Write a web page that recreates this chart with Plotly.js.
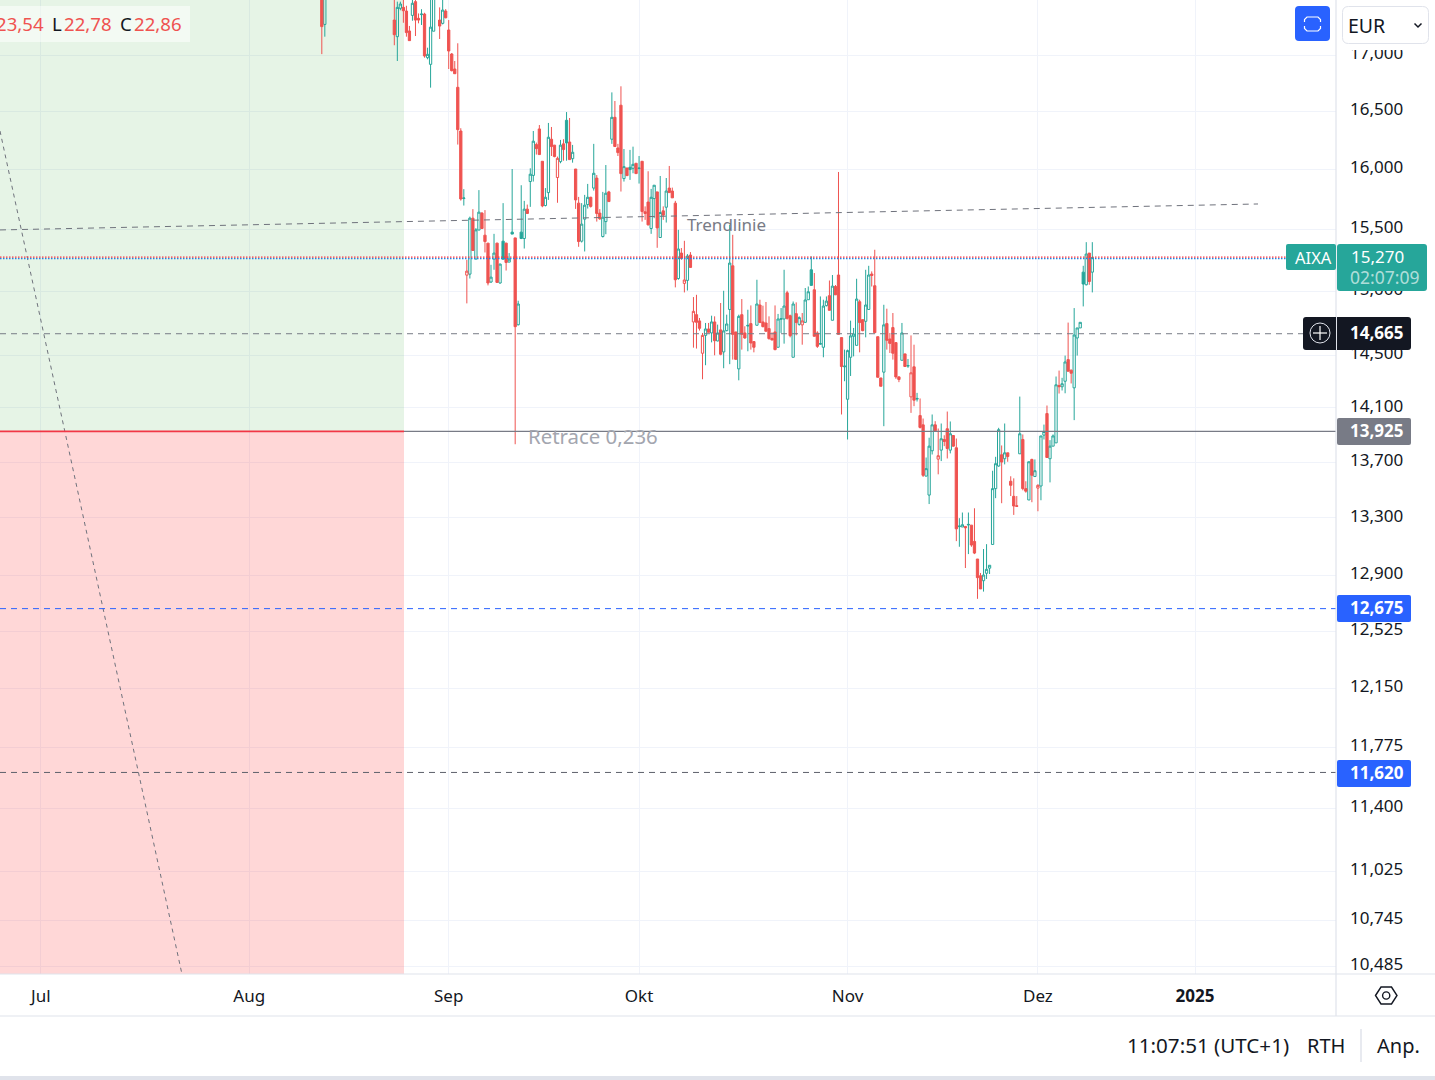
<!DOCTYPE html>
<html><head><meta charset="utf-8">
<script src="https://cdn.plot.ly/plotly-3.0.1.min.js"></script>
<style>html,body{margin:0;padding:0;background:#fff;overflow:hidden}#c{width:1435px;height:1080px}</style>
</head><body><div id="c"></div>
<script>
const bar=[-24,-23,0,1,2,3,4,5,6,7,8,9,10,11,12,13,
15,16,17,18,19,20,21,22,23,
24,25,26,27,28,29,30,31,32,33,
34,35,36,37,38,39,40,41,42,43,
44,45,46,47,48,49,50,51,52,53,
54,55,56,57,58,59,60,61,62,63,
64,65,66,67,68,69,70,71,72,73,
74,75,76,77,78,79,80,81,82,83,
84,85,86,87,88,89,90,91,92,93,
94,95,96,97,98,99,100,101,102,103,
104,105,106,107,108,109,110,111,112,113,
114,115,116,117,118,119,120,121,122,123,
124,125,126,127,128,129,130,131,132,133,
134,135,136,137,138,139,140,141,142,143,
144,145,146,147,148,149,150,151,152,153,
154,155,156,157,158,159,160,161,162,163,
164,165,166,167,168,169,170,171,172,173,
174,175,176,177,178,179,180,181,182,183,
184,185,186,187,188,189,190,191,192,193,
194,195,196,197,198,199,200,201,202,203,
204,205,206,207,208,209,210,211,212,213,
214,215,216,217,218,219,220,221,222,223,
224,225,226,227,228,229,230,231];
const tone=("r g r g g r r r g r r g r g g g "+
"r g r r r r r r g "+
"r g r g g r r r g g "+
"r g g r g g r g g g "+
"r g g r r r g g r r "+
"r g r g r g r r g g "+
"g r g r r g g r g r "+
"r r g r g g r g r r "+
"r g g r g r g r r r "+
"g r r g r r r r r g "+
"r g r g r g g g r r "+
"g r r g r r g r r r "+
"r r r g g g r r g r "+
"g r g g g r r g g g "+
"r g r r r g g g g g "+
"r r g g r r r r g r "+
"r r r r g r g r r g "+
"r r g g g r r g r r "+
"g r r g g r g r r r "+
"r g g g g g g r g r "+
"r r r g r r g r g r "+
"g g r g g g r g g r "+
"r g g g g g r g").split(" ");
const open=[17.7,17.28,17.32,17.168,17.428,17.437,17.403,17.22,17.363,17.49,17.336,17.37,17.375,16.978,16.918,17.218,
17.32,17.29,17.403,17.229,17.011,16.876,16.713,16.33,15.755,
15.128,15.136,15.592,15.257,15.494,15.634,15.452,15.387,15.073,15.257,
15.387,15.065,15.403,15.387,15.233,15.477,15.43,14.735,15.477,15.425,
15.667,15.898,15.95,16.213,16.348,16.07,15.697,15.805,16.259,16.208,
15.932,16.067,16.219,16.423,16.235,16.092,16.004,15.717,15.403,15.584,
15.705,15.766,15.843,15.927,15.634,15.441,15.564,15.811,16.259,16.449,
16.184,16.555,15.923,16.013,16.019,16.01,16.053,16.008,16.07,15.645,
15.726,15.507,15.755,15.811,15.433,15.653,15.683,15.843,15.818,15.717,
15.101,15.306,15.062,15.086,15.29,14.757,14.814,14.765,14.514,14.652,
14.702,14.671,14.757,14.609,14.695,14.524,14.689,14.855,15.203,14.679,
14.394,14.814,14.671,14.725,14.744,14.604,14.731,14.89,14.757,14.749,
14.705,14.629,14.679,14.56,14.778,14.78,14.987,14.806,14.483,14.822,
14.738,14.734,14.754,14.932,15.171,15.011,14.671,14.584,14.56,14.885,
14.964,14.77,15.037,15.129,14.635,14.41,14.164,14.483,14.645,14.575,
14.916,14.775,14.762,14.855,15.137,15.043,14.642,14.325,14.369,14.744,
14.624,14.713,14.596,14.333,14.46,14.509,14.415,14.182,14.41,14.165,
14.042,13.973,13.598,13.462,13.782,13.973,13.721,13.787,13.865,13.944,
13.787,13.894,13.804,13.238,13.236,13.24,13.25,13.249,13.135,13.013,
12.898,12.864,12.915,12.95,13.114,13.508,13.671,13.753,13.724,13.767,
13.561,13.453,13.386,13.76,13.865,13.508,13.427,13.719,13.595,13.512,
13.527,13.897,14.057,13.724,13.816,13.84,14.268,14.258,14.30,14.465,
14.384,14.25,14.632,14.71,15.152,15.051,15.306,15.152];
const high=[17.8,17.7,17.6,17.49,17.49,17.55,17.452,17.266,17.55,17.55,17.381,17.42,17.387,17.068,17.6,17.7,
17.437,17.52,17.421,17.32,17.02,16.948,17.108,16.354,15.834,
15.252,15.605,15.667,15.51,15.826,15.642,15.659,15.387,15.211,15.463,
15.39,15.22,15.717,15.39,15.306,16.004,15.43,14.924,15.867,15.736,
15.705,16.01,16.33,16.23,16.382,16.07,15.843,16.4,16.365,16.21,
16.11,16.253,16.259,16.495,16.443,16.21,16.004,15.769,15.717,15.786,
15.878,15.77,16.219,15.953,15.667,15.811,16.038,15.82,16.668,16.592,
16.219,16.722,16.175,16.013,16.167,16.195,16.053,16.115,16.07,15.69,
15.985,15.836,15.867,15.811,15.945,15.69,15.928,16.03,15.847,15.736,
15.496,15.347,15.406,15.298,15.314,14.953,14.971,14.788,14.671,14.749,
14.749,14.806,14.801,14.736,14.906,15.003,14.814,15.537,15.455,14.679,
14.814,14.937,14.723,14.853,14.887,14.604,15.091,14.932,14.885,14.914,
14.801,14.676,14.887,14.82,14.866,15.171,15.003,14.814,14.918,14.911,
14.801,14.827,15.025,15.037,15.279,15.145,14.684,14.958,14.932,14.958,
15.085,15.129,15.049,15.979,14.635,14.542,14.542,14.767,14.71,15.099,
14.932,14.775,15.171,15.203,15.158,15.333,14.642,14.325,14.892,14.861,
14.671,14.827,14.596,14.338,14.749,14.509,14.47,14.652,14.58,14.212,
14.17,14.02,13.733,13.878,14.05,14.0,13.946,13.983,13.896,14.072,
13.998,13.896,13.872,13.298,13.338,13.24,13.338,13.249,13.368,13.013,
12.917,13.082,13.116,12.97,13.637,13.738,13.951,13.821,13.983,13.767,
13.597,13.582,13.455,14.184,13.902,13.561,13.702,13.724,13.719,13.539,
13.891,13.975,14.117,13.86,13.902,14.336,14.381,14.326,14.496,14.752,
14.389,14.866,14.71,14.754,15.203,15.395,15.306,15.395];
const low=[17.01,17.168,17.09,16.948,17.41,17.295,17.168,17.132,17.314,17.174,17.29,17.275,16.978,16.963,16.71,17.218,
17.147,17.28,17.336,16.876,16.855,16.834,16.213,15.738,15.697,
14.903,15.101,15.327,15.257,15.494,15.502,15.311,15.046,15.065,15.171,
15.065,15.06,15.252,15.165,15.233,15.461,13.83,14.73,15.42,15.343,
15.631,15.686,15.898,16.127,16.127,15.683,15.69,15.744,16.115,16.104,
15.72,16.053,16.075,16.075,16.084,16.058,15.669,15.357,15.392,15.319,
15.672,15.68,15.822,15.564,15.578,15.433,15.46,15.73,16.219,16.196,
16.115,15.814,15.898,15.948,15.912,15.968,15.965,15.881,15.564,15.578,
15.532,15.463,15.592,15.349,15.433,15.578,15.556,15.805,15.761,15.03,
15.091,15.252,14.99,15.005,15.19,14.557,14.55,14.69,14.315,14.422,
14.676,14.598,14.498,14.606,14.498,14.399,14.684,14.43,14.465,14.465,
14.307,14.542,14.626,14.529,14.542,14.521,14.731,14.749,14.715,14.684,
14.619,14.616,14.537,14.56,14.671,14.588,14.775,14.637,14.483,14.653,
14.728,14.58,14.749,14.932,15.046,14.645,14.555,14.58,14.483,14.879,
14.848,14.77,14.969,14.66,14.05,14.30,13.865,14.34,14.49,14.575,
14.521,14.684,14.637,14.855,15.037,14.673,14.33,14.262,13.963,14.542,
14.516,14.465,14.318,14.293,14.46,14.41,14.402,14.062,14.112,14.147,
13.946,13.592,13.598,13.398,13.755,13.929,13.611,13.707,13.816,13.726,
13.763,13.812,13.137,13.098,13.236,12.951,13.047,13.098,13.047,12.741,
12.808,12.79,12.876,12.91,13.114,13.44,13.666,13.404,13.683,13.702,
13.455,13.321,13.38,13.76,13.496,13.479,13.427,13.411,13.595,13.347,
13.425,13.865,13.733,13.553,13.816,13.84,14.207,14.23,14.209,14.376,
14.283,14.008,14.496,14.71,14.879,15.046,15.051,14.99];
const close=[17.26,17.6,17.186,17.437,17.468,17.406,17.205,17.132,17.475,17.32,17.32,17.375,16.993,17.008,17.255,17.62,
17.265,17.412,17.341,17.038,16.861,16.834,16.342,15.752,15.76,
15.16,15.592,15.327,15.496,15.642,15.507,15.40,15.065,15.112,15.306,
15.07,15.217,15.257,15.23,15.257,15.461,14.72,14.898,15.425,15.667,
15.631,15.96,16.242,16.178,16.127,15.694,15.766,16.276,16.196,16.11,
16.095,16.208,16.17,16.227,16.084,16.147,15.744,15.40,15.543,15.70,
15.766,15.69,15.968,15.631,15.587,15.60,15.80,15.73,16.449,16.196,
16.144,15.965,16.024,15.948,15.999,16.044,15.965,16.012,15.647,15.631,
15.537,15.766,15.867,15.512,15.639,15.617,15.818,15.805,15.761,15.091,
15.339,15.262,15.089,15.282,15.19,14.84,14.754,14.707,14.652,14.702,
14.676,14.757,14.611,14.671,14.506,14.687,14.741,15.225,14.66,14.467,
14.801,14.66,14.632,14.73,14.593,14.56,14.898,14.752,14.72,14.684,
14.627,14.616,14.542,14.78,14.782,14.882,14.785,14.65,14.898,14.752,
14.791,14.765,14.93,14.995,15.046,14.645,14.567,14.588,14.882,14.921,
14.848,15.04,14.971,14.66,14.412,14.415,14.534,14.648,14.663,14.937,
14.752,14.689,14.89,15.129,15.125,14.673,14.33,14.262,14.734,14.614,
14.59,14.514,14.333,14.313,14.671,14.412,14.42,14.364,14.157,14.17,
13.954,13.604,13.652,13.816,13.973,13.929,13.746,13.87,13.85,13.799,
13.907,13.816,13.223,13.242,13.252,13.23,13.254,13.11,13.054,12.885,
12.808,12.903,12.942,12.97,13.508,13.688,13.937,13.70,13.767,13.74,
13.532,13.384,13.382,13.907,13.508,13.49,13.702,13.604,13.637,13.532,
13.891,13.924,13.733,13.816,13.891,14.273,14.258,14.281,14.447,14.376,
14.361,14.655,14.71,14.754,15.057,15.298,15.077,15.27];

const xTickBars=[-117,-48,18,81,150,213,265];
const xTickText=["Jul","Aug","Sep","Okt","Nov","Dez","<b>2025</b>"];
const yTickVals=[17,16.5,16,15.5,15,14.5,14.1,13.7,13.3,12.9,12.525,12.15,11.775,11.4,11.025,10.745,10.485];
const yTickText=["17,000","16,500","16,000","15,500","15,000","14,500","14,100","13,700","13,300","12,900","12,525","12,150","11,775","11,400","11,025","10,745","10,485"];
const lastPrice=15.27, pivot=14.665, retrace=13.925, blueLevel=12.675, lowerLevel=11.62;

const W=1435,H=1080,PW=1336,PH=974;
const INK="#131722",TEAL="#26a69a",RED="#ef5350",GRAY="#787b86",BLUE="#2962ff",GRID="#f0f3fa",EDGE="#e0e3eb";
const FONT='"Noto Sans", sans-serif';
const xr=[-130.5,311.65];
const yr=[1.01877,1.24317];
const barOfPx=p=>xr[0]+(xr[1]-xr[0])*p/PW;
const X=p=>p/PW, Y=p=>1-p/PH;

function candles(t,color){
  const idx=bar.map((_,i)=>i).filter(i=>tone[i]===t);
  return {type:"candlestick",x:idx.map(i=>bar[i]),open:idx.map(i=>open[i]),high:idx.map(i=>high[i]),low:idx.map(i=>low[i]),close:idx.map(i=>close[i]),
    increasing:{line:{color:color,width:1},fillcolor:"rgba(0,0,0,0)"},
    decreasing:{line:{color:color,width:1},fillcolor:color},
    whiskerwidth:0,hoverinfo:"skip",showlegend:false};
}
const rectPx=(x0,y0,x1,y1,fill,line)=>({type:"rect",xref:"paper",yref:"paper",x0:X(x0),x1:X(x1),y0:Y(y0),y1:Y(y1),fillcolor:fill,line:line||{width:0},layer:"above"});
const linePx=(x0,y0,x1,y1,color,w)=>({type:"line",xref:"paper",yref:"paper",x0:X(x0),x1:X(x1),y0:Y(y0),y1:Y(y1),line:{color:color,width:w||1},layer:"above"});
function rr(x0,y0,x1,y1,r){const P=(a,b)=>X(a)+","+Y(b);
  return "M"+P(x0+r,y0)+" L"+P(x1-r,y0)+" Q"+P(x1,y0)+" "+P(x1,y0+r)+" L"+P(x1,y1-r)+" Q"+P(x1,y1)+" "+P(x1-r,y1)+" L"+P(x0+r,y1)+" Q"+P(x0,y1)+" "+P(x0,y1-r)+" L"+P(x0,y0+r)+" Q"+P(x0,y0)+" "+P(x0+r,y0)+" Z";}
const rrect=(x0,y0,x1,y1,r,fill,line)=>({type:"path",xref:"paper",yref:"paper",path:rr(x0,y0,x1,y1,r),fillcolor:fill,line:line||{width:0},layer:"above"});
const poly=(pts,color,w,close_)=>({type:"path",xref:"paper",yref:"paper",path:"M"+pts.map(p=>X(p[0])+","+Y(p[1])).join(" L")+(close_?" Z":""),fillcolor:"rgba(0,0,0,0)",line:{color:color,width:w},layer:"above"});
const circle=(cx,cy,r,color,w)=>({type:"circle",xref:"paper",yref:"paper",x0:X(cx-r),x1:X(cx+r),y0:Y(cy+r),y1:Y(cy-r),line:{color:color,width:w},fillcolor:"rgba(0,0,0,0)",layer:"above"});
const hLevel=(y,p0,p1,color,dash,w)=>({type:"line",xref:"x",yref:"y",x0:barOfPx(p0),x1:barOfPx(p1),y0:y,y1:y,line:{color:color,width:w||1,dash:dash||"solid"},layer:"above"});
const txt=(text,x,y,size,color,anchor,extra)=>Object.assign({text:text,xref:"paper",yref:"paper",x:X(x),y:Y(y),xanchor:anchor||"left",yanchor:"middle",showarrow:false,font:{family:FONT,size:size,color:color||INK},borderpad:0},extra||{});

const shapes=[
 {type:"rect",xref:"x",yref:"y",x0:barOfPx(-2),x1:barOfPx(404),y0:retrace,y1:18,fillcolor:"rgba(76,175,80,0.14)",line:{width:0},layer:"between"},
 {type:"rect",xref:"x",yref:"y",x0:barOfPx(-2),x1:barOfPx(404),y0:10,y1:retrace,fillcolor:"rgba(255,82,82,0.23)",line:{width:0},layer:"between"},
 {type:"line",xref:"x",yref:"y",x0:barOfPx(0),x1:barOfPx(1258),y0:15.495,y1:15.71,line:{color:"#6f727c",width:1,dash:"6px,5px"},layer:"above"},
 {type:"line",xref:"x",yref:"y",x0:barOfPx(0),x1:barOfPx(182),y0:16.33,y1:10.44,line:{color:"#6f727c",width:1,dash:"4px,4px"},layer:"above"},
 hLevel(pivot,0,1303,GRAY,"6px,5px"),
 hLevel(blueLevel,0,1336,BLUE,"6px,5px"),
 hLevel(lowerLevel,0,1336,"#5d606b","6px,5px"),
 hLevel(retrace,404,1336,GRAY,"solid",1.2),
 hLevel(retrace,0,404,"#f23645","solid",1.6),
 hLevel(lastPrice-0.009,0,1286,"#1e88e5","1.5px,1.5px",1.4),
 hLevel(lastPrice+0.003,0,1286,"#f23645","1.5px,1.5px",1.4),
 rectPx(1337,0,W,50,"#fff"),
 linePx(1336,0,1336,1016,EDGE,1.2),
 linePx(0,974,W,974,EDGE,1.2),
 linePx(0,1016,W,1016,EDGE,1.2),
 rectPx(0,1076,W,1080,"#e0e3eb"),
 linePx(1361,1029,1361,1062,EDGE,1.5),
 rectPx(0,6,190,42,"rgba(255,255,255,0.5)"),
 rrect(1295,6,1330,41,4,BLUE),
 poly([[1304.5,22],[1304.5,19.5],[1307,17],[1318,17],[1320.5,19.5],[1320.5,22]],"#fff",1.2),
 poly([[1304.5,26],[1304.5,28.5],[1307,31],[1318,31],[1320.5,28.5],[1320.5,26]],"#fff",1.2),
 rrect(1342.5,6.5,1428.5,43.5,6,"#fff",{color:EDGE,width:1}),
 poly([[1414.5,23.5],[1418,27],[1421.5,23.5]],INK,1.5),
 rrect(1286,244,1336,270,2,TEAL),
 rrect(1337,244,1427,291,3,TEAL),
 rrect(1303,317,1411,350,3,INK),
 linePx(1336.5,317,1336.5,350,"#e0e3eb",1),
 circle(1320,333,10,"#e0e3eb",1),
 linePx(1313,333,1327,333,"#fff",1.2),
 linePx(1320,326,1320,340,"#fff",1.2),
 rrect(1337,418,1411,445,2,GRAY),
 rrect(1337,595,1411,622,2,BLUE),
 rrect(1337,760,1411,787,2,BLUE),
 poly([[1375.5,995.5],[1381,987],[1391.5,987],[1397,995.5],[1391.5,1004],[1381,1004]],INK,1.4,true),
 circle(1386.2,995.5,3.6,INK,1.4)
];
const annotations=[
 txt("23,54",-5,23.5,18.6,"#ef5350"),
 txt("L",51,23.5,18.6,INK),
 txt("22,78",62.5,23.5,18.6,"#ef5350"),
 txt("C",119,23.5,18.6,INK),
 txt("22,86",132.5,23.5,18.6,"#ef5350"),
 txt("EUR",1347,25.2,19.5,INK),
 txt("Trendlinie",686,224.6,17,GRAY),
 txt("Retrace 0,236",526.7,436.4,20.4,"#a3a6af"),
 txt("AIXA",1293.5,257,16.5,"#fff"),
 txt("15,270",1349.8,256,17,"#fff"),
 txt("02:07:09",1349,277.3,17.5,"rgba(255,255,255,0.65)"),
 txt("<b>14,665</b>",1349.5,332.6,17,"#fff"),
 txt("<b>13,925</b>",1349.5,430.3,17,"#fff"),
 txt("<b>12,675</b>",1349.5,607.3,17,"#fff"),
 txt("<b>11,620</b>",1349.5,772.5,17,"#fff"),
 txt("11:07:51 (UTC+1)",1126,1045,20.6,INK),
 txt("RTH",1306,1045,20,INK),
 txt("Anp.",1376,1045,20,INK)
];

const layout={
 width:W,height:H,autosize:false,showlegend:false,paper_bgcolor:"#fff",plot_bgcolor:"#fff",
 margin:{l:0,r:W-PW,t:0,b:H-PH,pad:0},font:{family:FONT,color:INK},
 boxmode:"overlay",boxgap:0.25,boxgroupgap:0,
 xaxis:{type:"linear",range:xr,rangeslider:{visible:false},tickmode:"array",tickvals:xTickBars,ticktext:xTickText,showgrid:true,gridcolor:GRID,gridwidth:1,zeroline:false,showline:false,ticks:"",ticklabelstandoff:10,tickfont:{family:FONT,size:17,color:INK},fixedrange:true},
 yaxis:{type:"log",side:"right",range:yr,tickmode:"array",tickvals:yTickVals,ticktext:yTickText,showticklabels:true,showgrid:true,gridcolor:GRID,gridwidth:1,zeroline:false,showline:false,ticks:"",ticklabelstandoff:13,ticklabelshift:-2,tickfont:{family:FONT,size:17,color:INK},fixedrange:true},
 shapes:shapes,annotations:annotations
};
Plotly.newPlot("c",[candles("g",TEAL),candles("r",RED)],layout,{displayModeBar:false,staticPlot:true});
</script></body></html>
